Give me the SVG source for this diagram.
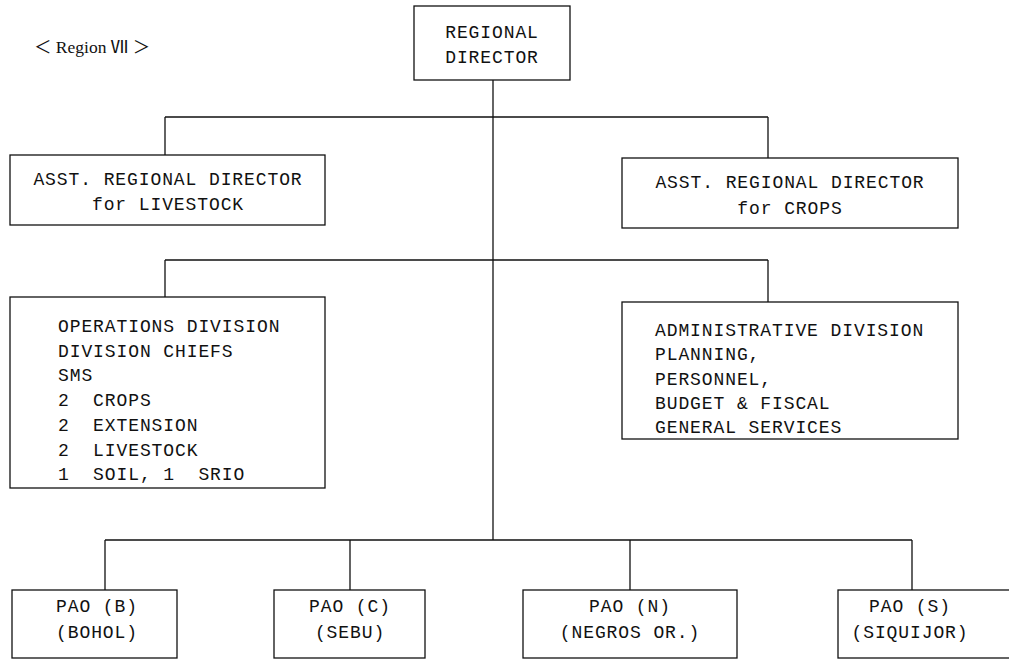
<svg xmlns="http://www.w3.org/2000/svg" width="1009" height="661" viewBox="0 0 1009 661">
<style>
.box{fill:#fff;stroke:#111;stroke-width:1.3}
.ln{fill:none;stroke:#111;stroke-width:1.3}
.t{font-family:"Liberation Mono","DejaVu Sans Mono",monospace;font-size:18px;letter-spacing:0.9px;fill:#111;white-space:pre}
.c{text-anchor:middle}
.lbl{font-family:"Liberation Serif","Noto Sans CJK JP",serif;font-size:17.5px;fill:#111}
</style>
<rect width="1009" height="661" fill="#fff"/>
<text class="lbl" x="34" y="53">＜ Region Ⅶ ＞</text>
<g id="connectors">
<path class="ln" d="M493 80V540"/>
<path class="ln" d="M165 117H768M165 117V155M768 117V158"/>
<path class="ln" d="M165 260H768M165 260V297M768 260V302"/>
<path class="ln" d="M105 540H912M105 540V590M350 540V590M630 540V590M912 540V590"/>
</g>
<g id="regional-director">
<rect class="box" x="414" y="6" width="156" height="74"/>
<text class="t c" x="492" y="38">REGIONAL</text>
<text class="t c" x="492" y="63">DIRECTOR</text>
</g>
<g id="asst-livestock">
<rect class="box" x="10" y="155" width="315" height="70"/>
<text class="t c" x="168" y="185">ASST. REGIONAL DIRECTOR</text>
<text class="t c" x="168" y="210">for LIVESTOCK</text>
</g>
<g id="asst-crops">
<rect class="box" x="622" y="158" width="336" height="70"/>
<text class="t c" x="790" y="188">ASST. REGIONAL DIRECTOR</text>
<text class="t c" x="790" y="214">for CROPS</text>
</g>
<g id="operations">
<rect class="box" x="10" y="297" width="315" height="191"/>
<text class="t" x="58" y="332">OPERATIONS DIVISION</text>
<text class="t" x="58" y="357">DIVISION CHIEFS</text>
<text class="t" x="58" y="381">SMS</text>
<text class="t" x="58" y="406">2  CROPS</text>
<text class="t" x="58" y="431">2  EXTENSION</text>
<text class="t" x="58" y="456">2  LIVESTOCK</text>
<text class="t" x="58" y="480">1  SOIL, 1  SRIO</text>
</g>
<g id="administrative">
<rect class="box" x="622" y="302" width="336" height="137"/>
<text class="t" x="655" y="336">ADMINISTRATIVE DIVISION</text>
<text class="t" x="655" y="360">PLANNING,</text>
<text class="t" x="655" y="385">PERSONNEL,</text>
<text class="t" x="655" y="409">BUDGET &amp; FISCAL</text>
<text class="t" x="655" y="433">GENERAL SERVICES</text>
</g>
<g id="pao-b">
<rect class="box" x="12" y="590" width="165" height="68"/>
<text class="t c" x="97" y="612">PAO (B)</text>
<text class="t c" x="97" y="638">(BOHOL)</text>
</g>
<g id="pao-c">
<rect class="box" x="274" y="590" width="151" height="68"/>
<text class="t c" x="350" y="612">PAO (C)</text>
<text class="t c" x="350" y="638">(SEBU)</text>
</g>
<g id="pao-n">
<rect class="box" x="523" y="590" width="214" height="68"/>
<text class="t c" x="630" y="612">PAO (N)</text>
<text class="t c" x="630" y="638">(NEGROS OR.)</text>
</g>
<g id="pao-s">
<rect class="box" x="838" y="590" width="180" height="68"/>
<text class="t c" x="910" y="612">PAO (S)</text>
<text class="t c" x="910" y="638">(SIQUIJOR)</text>
</g>
</svg>
